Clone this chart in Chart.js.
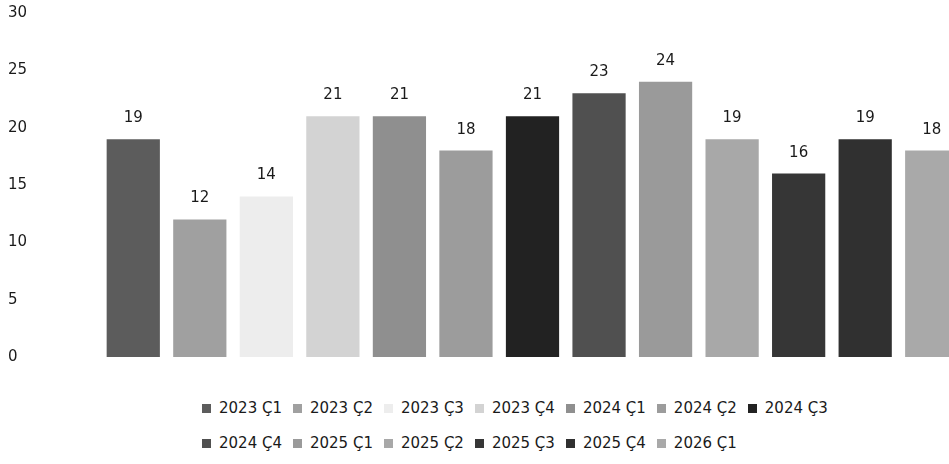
<!DOCTYPE html>
<html>
<head>
<meta charset="utf-8">
<script src="https://cdn.jsdelivr.net/npm/chart.js@4"></script>
<style>
    html, body { margin: 0; padding: 0; background: #fff; width: 949px; height: 464px; overflow: hidden; }
    #wrap { position: absolute; left: 0; top: 0; width: 966px; height: 380px; }
    #legend {
        position: absolute; left: 202px; top: 398px; width: 660px;
        display: flex; flex-wrap: wrap; row-gap: 15px;
        font: 15px "DejaVu Sans", sans-serif; color: #1a1a1a;
    }
    .item { display: flex; align-items: center; height: 20px; margin-right: 11px; }
    .swatch { width: 9px; height: 9px; margin-right: 8px; }
</style>
</head>
<body>
<div id="wrap"><canvas id="chart"></canvas></div>
<div id="legend"></div>
<script>
// çeyrekler ve değerler
const quarters = ['2023 Ç1', '2023 Ç2', '2023 Ç3', '2023 Ç4', '2024 Ç1', '2024 Ç2', '2024 Ç3',
                  '2024 Ç4', '2025 Ç1', '2025 Ç2', '2025 Ç3', '2025 Ç4', '2026 Ç1'];
const values = [19, 12, 14, 21, 21, 18, 21, 23, 24, 19, 16, 19, 18];
const barColors = ['#5c5c5c', '#a0a0a0', '#ededed', '#d3d3d3', '#8f8f8f', '#9c9c9c', '#222222',
                   '#505050', '#9a9a9a', '#a8a8a8', '#363636', '#303030', '#a9a9a9'];
const yMin = 0, yMax = 30, yStep = 5;

// değer etiketleri (çubuk üstü)
const valueLabels = {
    id: 'valueLabels',
    afterDatasetsDraw(chart) {
        const ctx = chart.ctx;
        ctx.save();
        ctx.font = '15px "DejaVu Sans"';
        ctx.fillStyle = '#1a1a1a';
        ctx.textAlign = 'center';
        ctx.textBaseline = 'alphabetic';
        chart.data.datasets.forEach((ds, i) => {
            chart.getDatasetMeta(i).data.forEach((bar, j) => {
                if (ds.data[j] == null) return;
                ctx.fillText(ds.data[j], bar.x, bar.y - 17);
            });
        });
        ctx.restore();
    }
};

const datasets = quarters.map((q, i) => ({
    label: q,
    data: quarters.map((_, j) => j === i ? values[i] : null),
    backgroundColor: barColors[i]
}));

new Chart(document.getElementById('chart'), {
    type: 'bar',
    data: { labels: quarters, datasets },
    options: {
        responsive: true,
        maintainAspectRatio: false,
        animation: false,
        grouped: false,
        barPercentage: 0.8,
        categoryPercentage: 1,
        layout: { padding: { left: 8, right: 1, top: 13, bottom: 23 } },
        scales: {
            x: { display: false },
            y: {
                min: yMin, max: yMax,
                ticks: { stepSize: yStep, crossAlign: 'far', color: '#1a1a1a', font: { family: 'DejaVu Sans', size: 15 } },
                grid: { display: false },
                border: { display: false },
                afterFit(scale) { scale.width = 92; }
            }
        },
        plugins: { legend: { display: false }, tooltip: { enabled: false } }
    },
    plugins: [valueLabels]
});

// alt gösterge
const legendEl = document.getElementById('legend');
legendEl.innerHTML = quarters.map((q, i) =>
    `<div class="item"><span class="swatch" style="background:${barColors[i]}"></span>${q}</div>`
).join('');
</script>
</body>
</html>
